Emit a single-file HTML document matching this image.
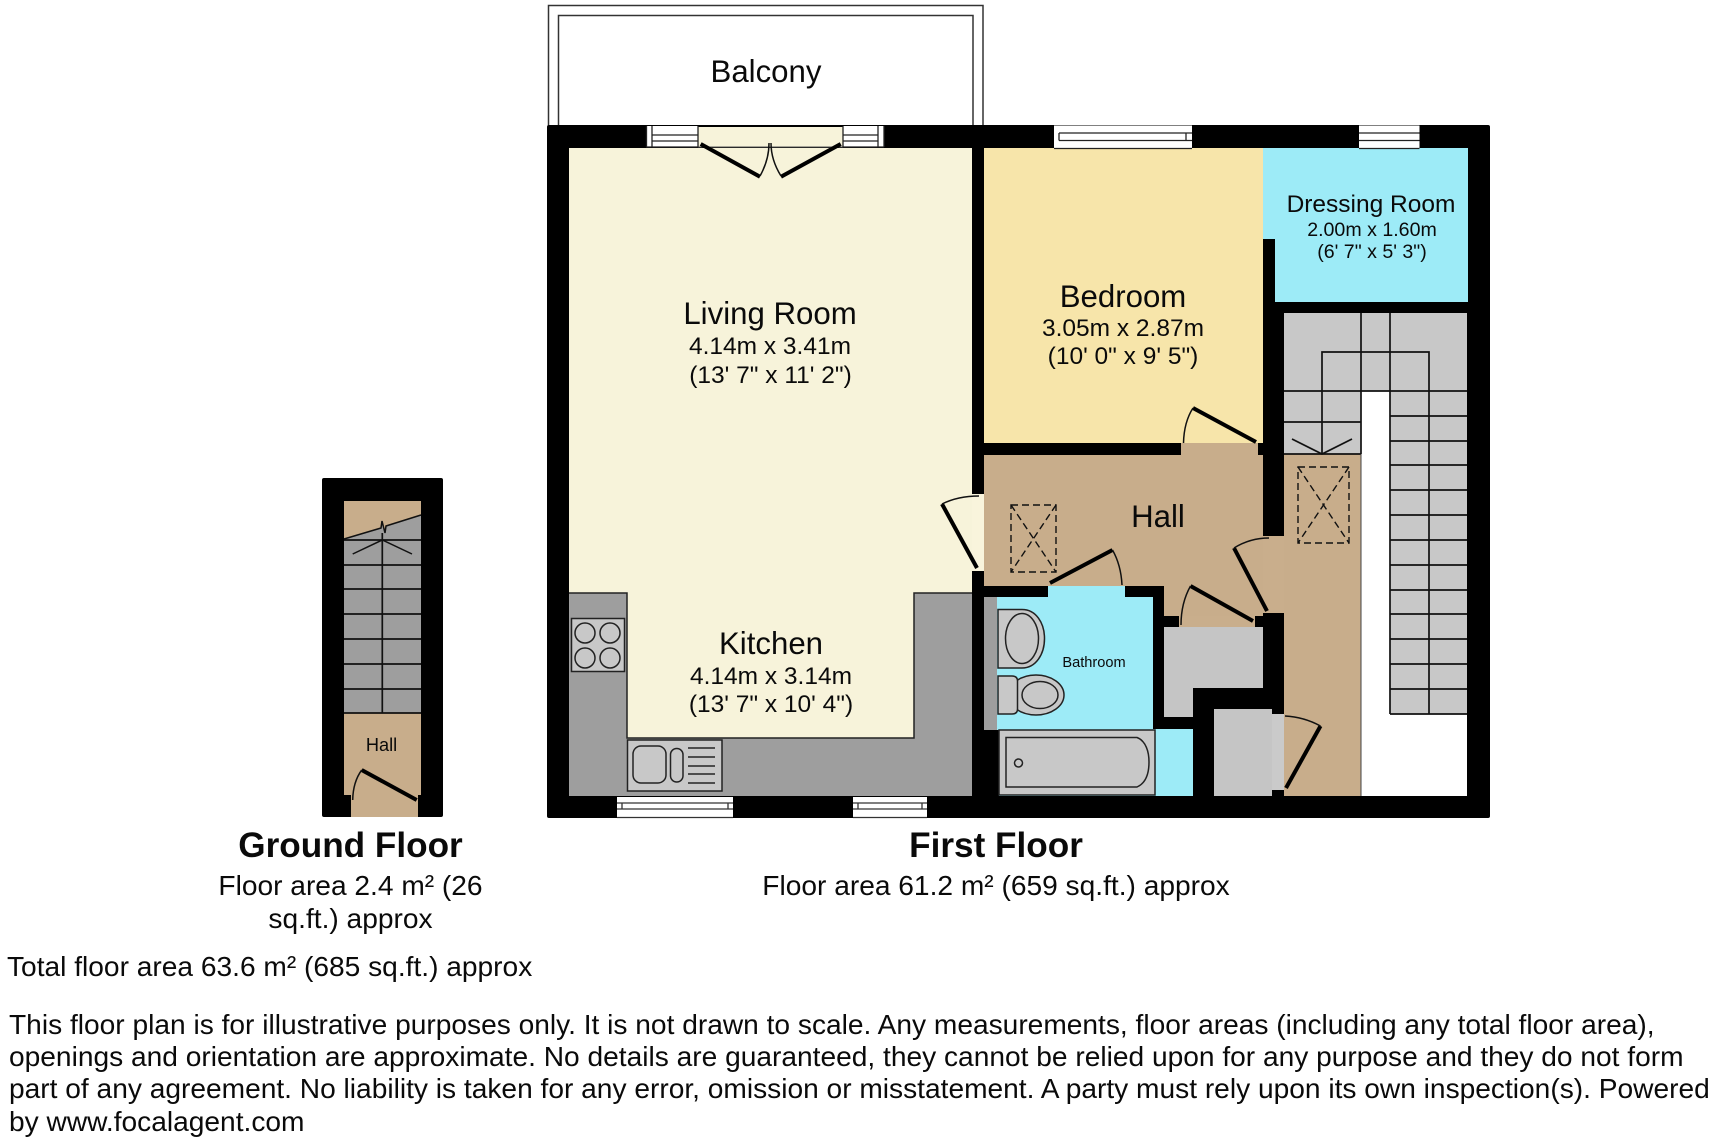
<!DOCTYPE html>
<html lang="en">
<head>
<meta charset="utf-8">
<title>Floor plan</title>
<style>
html,body{margin:0;padding:0;background:#fff;width:1712px;height:1144px;overflow:hidden}
svg{display:block}
text{font-family:"Liberation Sans",sans-serif;fill:#0a0a0a}
.m{text-anchor:middle}
.t{font-size:31.2px}
.d{font-size:24.5px}
.l{font-size:28.13px}
.n{fill:none;stroke:#111;stroke-width:1.5}
.dr{fill:none;stroke:#000;stroke-width:4}
.arc{fill:none;stroke:#111;stroke-width:1.5}
.dash{fill:none;stroke:#111;stroke-width:1.4;stroke-dasharray:7 4}
.g{fill:#c8c8c8}
.f{fill:#c8c8c8;stroke:#222;stroke-width:1.5}
</style>
</head>
<body>
<svg width="1712" height="1144" viewBox="0 0 1712 1144" xmlns="http://www.w3.org/2000/svg">
<rect width="1712" height="1144" fill="#fff"/>

<!-- Balcony -->
<path d="M548.500 126V5.500H983V126M558.500 126V15.500H973V126" fill="none" stroke="#333" stroke-width="1.500"/>
<text class="m t" x="766" y="82">Balcony</text>

<!-- First floor shell -->
<rect x="547" y="125" width="943" height="693" rx="2" fill="#000"/>

<!-- Living / kitchen -->
<rect x="569" y="148" width="403" height="648" fill="#f7f3da"/>
<rect x="972" y="494" width="12" height="77" fill="#f9f4dc"/>
<path d="M569 593H627V738H914V593H972V796H569Z" fill="#9e9e9e"/>
<path d="M569 593H627V738H914V593H972" fill="none" stroke="#222" stroke-width="1.500"/>

<!-- Hob -->
<rect x="571.500" y="618.500" width="53" height="53" class="f"/>
<circle cx="585" cy="633" r="10" class="f"/><circle cx="610" cy="633" r="10" class="f"/>
<circle cx="585" cy="658" r="10" class="f"/><circle cx="610" cy="658" r="10" class="f"/>

<!-- Sink -->
<rect x="627.500" y="740" width="94.500" height="51" class="f"/>
<rect x="633" y="746" width="33" height="37" rx="8" class="f"/>
<rect x="670.500" y="748.500" width="12.500" height="33.500" rx="6.200" class="f"/>
<path d="M688 748H715M688 757H715M688 766H715M688 774H715M688 783H715" stroke="#222" stroke-width="1.500" fill="none"/>

<!-- Bedroom -->
<rect x="984" y="148" width="279" height="295" fill="#f7e5aa"/>

<!-- Dressing room -->
<path d="M1263 148H1468V302H1275V239H1263Z" fill="#9debf7"/>

<!-- Hall -->
<rect x="984" y="455" width="279" height="131" fill="#c8ad8b"/>
<rect x="1164" y="586" width="99" height="30" fill="#c8ad8b"/>
<rect x="1181" y="443" width="77" height="12" fill="#c8ad8b"/>
<rect x="1263" y="536" width="21" height="77" fill="#c9ae8c"/>
<rect x="1179" y="616" width="76" height="11" fill="#c9ae8c"/>

<!-- Stair hall -->
<rect x="1284" y="454" width="77" height="342" fill="#c8ad8b"/>

<!-- Bathroom -->
<path d="M997 597H1153V729H1193V796H999V730H997Z" fill="#9debf7"/>
<rect x="1048" y="586" width="77" height="11" fill="#9debf7"/>
<rect x="984" y="597" width="13" height="133" fill="#9e9e9e"/>

<!-- Basin -->
<path d="M998 609.500H1022C1036 609.500 1044.500 623 1044.500 638.500C1044.500 654 1036 668 1022 668H998Z" class="f"/>
<ellipse cx="1022" cy="638.500" rx="16.500" ry="25" class="f"/>

<!-- Toilet -->
<ellipse cx="1036" cy="695" rx="28" ry="20" class="f"/>
<path d="M998 676H1012Q1017.500 676 1017.500 681V709Q1017.500 714 1012 714H998Z" class="f"/>
<ellipse cx="1040" cy="695" rx="18" ry="13.500" class="f"/>

<!-- Bath -->
<rect x="999" y="730" width="156" height="65" class="f"/>
<path d="M1006 737.500H1137C1146 741 1149 752 1149 762C1149 773 1146 783 1137 787H1006Z" class="f"/>
<circle cx="1018.500" cy="763" r="4" class="f"/>

<!-- Cupboards -->
<path d="M1164 627H1263V688H1193V717H1164Z" fill="#c5c5c5"/>
<rect x="1214" y="709" width="58" height="87" fill="#c5c5c5"/>
<rect x="1272" y="714" width="12" height="76" fill="#cacaca"/>

<!-- Stairs -->
<path d="M1284 313H1467V714H1390V391H1361V454H1284Z" fill="#c8c8c8"/>
<rect x="1361" y="391" width="29" height="405" fill="#fff"/>
<rect x="1361" y="714" width="106" height="82" fill="#fff"/>
<path d="M1361 313V454M1390 313V714M1322 454V352H1429V714M1284 391H1467M1284 422H1361M1284 454H1361M1390 416H1467M1390 441H1467M1390 465H1467M1390 490H1467M1390 515H1467M1390 540H1467M1390 565H1467M1390 590H1467M1390 614H1467M1390 639H1467M1390 664H1467M1390 689H1467M1390 714H1467" fill="none" stroke="#111" stroke-width="1.700"/>
<path d="M1292 439L1322 454L1352 439" fill="none" stroke="#111" stroke-width="1.700"/>
<path d="M1361 454V796" stroke="#444" stroke-width="1"/>

<!-- Loft hatches -->
<rect x="1298" y="467" width="51" height="76" class="dash"/>
<path d="M1298 467L1349 543M1349 467L1298 543" class="dash"/>
<rect x="1011" y="505" width="45" height="67" class="dash"/>
<path d="M1011 505L1056 572M1056 505L1011 572" class="dash"/>

<!-- Doors -->
<path d="M1193 408L1256 442" class="dr"/><path d="M1193 408Q1184 422 1183.500 443" class="arc"/>
<path d="M942 504L977 568" class="dr"/><path d="M942 504Q958 496 979 496" class="arc"/>
<path d="M1112.500 550L1050 583" class="dr"/><path d="M1112.500 550Q1121 565 1122 585" class="arc"/>
<path d="M1190.500 586L1253 621" class="dr"/><path d="M1190.500 586Q1181 603 1181 625" class="arc"/>
<path d="M1234 548L1267 611" class="dr"/><path d="M1234 548Q1250 538 1269 538" class="arc"/>
<path d="M1320.500 726L1286 788" class="dr"/><path d="M1320.500 726Q1304 717 1285 716" class="arc"/>

<!-- French doors -->
<rect x="698" y="127" width="145" height="20" fill="#f7f3da"/>
<path d="M698 147H843" stroke="#555" stroke-width="1"/>
<path d="M700.700 144L760 176.700M840.700 144L781 176.700" class="dr"/>
<path d="M760 176Q769 160 769 143M781 176Q771 160 771 143" class="arc"/>

<!-- Windows -->
<rect x="646" y="126" width="52" height="21" fill="#fff"/>
<rect x="843" y="126" width="41" height="21" fill="#fff"/>
<path d="M646.500 126V147M652 126V147M698 126V147M652 135H698M652 141H698M652 147H698M843 126V147M878 126V147M884 126V147M843 135H878M843 141H878M843 147H878M646 147H652M878 147H884" fill="none" stroke="#222" stroke-width="1.300"/>

<rect x="1054" y="125.500" width="138" height="23" fill="#fff"/>
<path d="M1059 133H1192M1059 140.500H1192M1059 133V140.500M1186 133V140.500M1054 148.500H1192" fill="none" stroke="#222" stroke-width="1.300"/>
<rect x="1359" y="125.500" width="60.500" height="23" fill="#fff"/>
<path d="M1359 133H1419.500M1359 140.500H1419.500M1359 148.500H1419.500" fill="none" stroke="#222" stroke-width="1.300"/>

<rect x="617" y="797" width="116" height="21" fill="#fff"/>
<path d="M617 803H733M617 809H733M622 803V809M728 803V809M617 817.500H733" fill="none" stroke="#333" stroke-width="1.300"/>
<rect x="853" y="797" width="74" height="21" fill="#fff"/>
<path d="M853 803H927M853 809H927M858 803V809M922 803V809M853 817.500H927" fill="none" stroke="#333" stroke-width="1.300"/>

<!-- First floor room labels -->
<text class="m t" x="770" y="324">Living Room</text>
<text class="m d" x="770" y="354">4.14m x 3.41m</text>
<text class="m d" x="770.500" y="383">(13' 7" x 11' 2")</text>
<text class="m t" x="771" y="654">Kitchen</text>
<text class="m d" x="771" y="684">4.14m x 3.14m</text>
<text class="m d" x="771" y="712">(13' 7" x 10' 4")</text>
<text class="m t" x="1123" y="307">Bedroom</text>
<text class="m d" x="1123" y="336">3.05m x 2.87m</text>
<text class="m d" x="1123" y="364">(10' 0" x 9' 5")</text>
<text class="m d" x="1371" y="212">Dressing Room</text>
<text class="m" x="1372" y="236" font-size="19.600">2.00m x 1.60m</text>
<text class="m" x="1372" y="258" font-size="19.600">(6' 7" x 5' 3")</text>
<text class="m t" x="1158" y="527">Hall</text>
<text class="m" x="1094" y="667" font-size="14.600">Bathroom</text>

<!-- Ground floor -->
<rect x="322" y="478" width="121" height="339" rx="2" fill="#000"/>
<rect x="344" y="501" width="77" height="294" fill="#c8ad8b"/>
<rect x="351" y="795" width="67" height="22" fill="#c8ad8b"/>
<path d="M344 539L381 528L382 521L385 533L386 526L421 515V713H344Z" fill="#9e9e9e"/>
<path d="M344 539L381 528L382 521L385 533L386 526L421 515" fill="none" stroke="#111" stroke-width="1.500"/>
<path d="M344 540H421M344 565H421M344 589H421M344 614H421M344 639H421M344 664H421M344 689H421M344 713H421M382.300 533V713" fill="none" stroke="#111" stroke-width="1.700"/>
<path d="M352.700 554L382.300 540L412 554" fill="none" stroke="#111" stroke-width="1.500"/>
<path d="M361.700 770L416.700 800" class="dr"/><path d="M361.700 770Q353 782 352.700 800" class="arc"/>
<text class="m" x="381.500" y="751" font-size="18.200">Hall</text>

<!-- Headings -->
<text class="m" x="350.500" y="857" font-size="35.150" font-weight="bold">Ground Floor</text>
<text class="m" x="996" y="857" font-size="35.150" font-weight="bold">First Floor</text>
<text class="m l" x="350.500" y="895">Floor area 2.4 m² (26</text>
<text class="m l" x="350.500" y="928">sq.ft.) approx</text>
<text class="m l" x="996" y="895">Floor area 61.2 m² (659 sq.ft.) approx</text>
<text class="l" x="7" y="976">Total floor area 63.6 m² (685 sq.ft.) approx</text>

<!-- Disclaimer -->
<text class="l" x="9" y="1034">This floor plan is for illustrative purposes only. It is not drawn to scale. Any measurements, floor areas (including any total floor area),</text>
<text class="l" x="9" y="1066">openings and orientation are approximate. No details are guaranteed, they cannot be relied upon for any purpose and they do not form</text>
<text class="l" x="9" y="1098">part of any agreement. No liability is taken for any error, omission or misstatement. A party must rely upon its own inspection(s). Powered</text>
<text class="l" x="9" y="1131">by www.focalagent.com</text>
</svg>
</body>
</html>
